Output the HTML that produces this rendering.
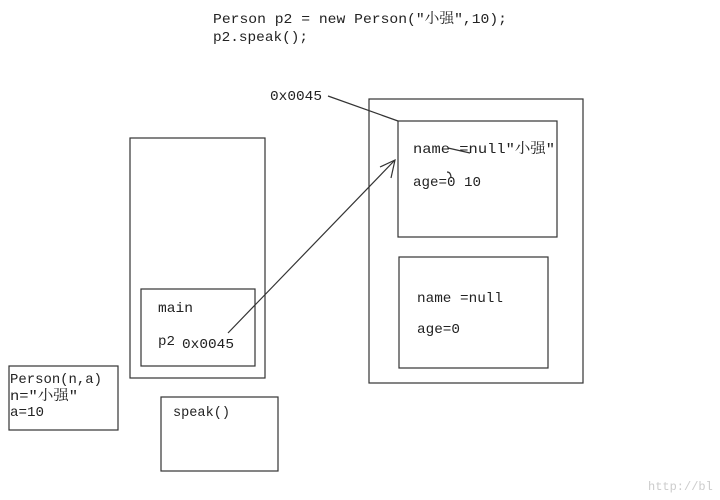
<!DOCTYPE html>
<html><head><meta charset="utf-8"><style>
html,body{margin:0;padding:0;background:#fff;}
svg{display:block;}
text{font-family:"Liberation Mono","Noto Serif CJK SC","Noto Sans CJK SC",monospace;font-size:14px;fill:#222;}
</style></head><body>
<svg width="720" height="500" viewBox="0 0 720 500" xmlns="http://www.w3.org/2000/svg">
<g fill="none" stroke="#333" stroke-width="1.2">
<rect x="130" y="138" width="135" height="240"/>
<rect x="141" y="289" width="114" height="77"/>
<rect x="9" y="366" width="109" height="64"/>
<rect x="161" y="397" width="117" height="74"/>
<rect x="369" y="99" width="214" height="284"/>
<rect x="398" y="121" width="159" height="116"/>
<rect x="399" y="257" width="149" height="111"/>
<line x1="328" y1="96" x2="398" y2="121"/>
<line x1="228" y1="333" x2="395" y2="160"/>
<polyline points="380,167 395,160 391,178"/>
<line x1="448" y1="148" x2="470" y2="153"/>
<path d="M447,172 q4,0 4,6"/>
</g>
<text x="213" y="23" textLength="294" lengthAdjust="spacingAndGlyphs">Person p2 = new Person(″小强″,10);</text>
<text x="213" y="41" textLength="95" lengthAdjust="spacingAndGlyphs">p2.speak();</text>
<text x="270" y="100" textLength="52" lengthAdjust="spacingAndGlyphs">0x0045</text>
<text x="413" y="153" textLength="142" lengthAdjust="spacingAndGlyphs">name =null″小强″</text>
<text x="413" y="186" textLength="68" lengthAdjust="spacingAndGlyphs">age=0 10</text>
<text x="417" y="302" textLength="86" lengthAdjust="spacingAndGlyphs">name =null</text>
<text x="417" y="333" textLength="43" lengthAdjust="spacingAndGlyphs">age=0</text>
<text x="158" y="312" textLength="35" lengthAdjust="spacingAndGlyphs">main</text>
<text x="158" y="345" textLength="17" lengthAdjust="spacingAndGlyphs">p2</text>
<text x="182" y="348" textLength="52" lengthAdjust="spacingAndGlyphs">0x0045</text>
<text x="10" y="383" textLength="92" lengthAdjust="spacingAndGlyphs">Person(n,a)</text>
<text x="10" y="400" textLength="68" lengthAdjust="spacingAndGlyphs">n=″小强″</text>
<text x="10" y="416" textLength="34" lengthAdjust="spacingAndGlyphs">a=10</text>
<text x="173" y="416" textLength="57" lengthAdjust="spacingAndGlyphs">speak()</text>
<text x="648" y="490" style="fill:#ccc;font-size:12px">http://bl</text>
</svg>
</body></html>
